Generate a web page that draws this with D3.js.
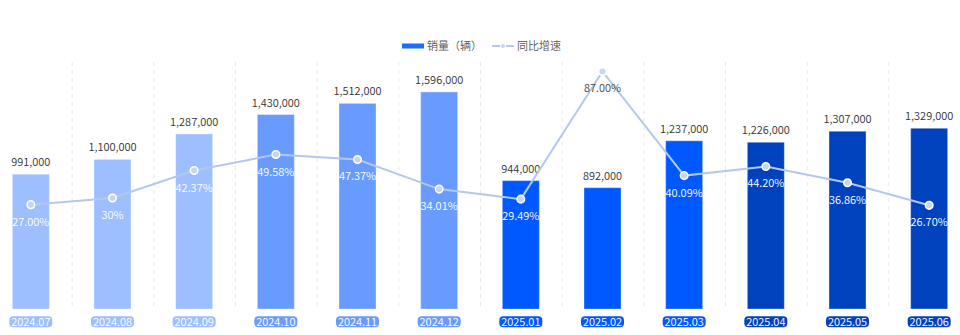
<!DOCTYPE html>
<html><head><meta charset="utf-8">
<script src="https://cdn.jsdelivr.net/npm/d3@7"></script>
<style>
html,body{margin:0;padding:0;background:#fff;}
svg{display:block;font-family:"Microsoft YaHei","Noto Sans CJK SC","Noto Sans",sans-serif;}
</style></head>
<body><svg id="c" width="960" height="335"></svg>
<script>
const categories = ["2024.07","2024.08","2024.09","2024.10","2024.11","2024.12","2025.01","2025.02","2025.03","2025.04","2025.05","2025.06"];
const sales = [991000,1100000,1287000,1430000,1512000,1596000,944000,892000,1237000,1226000,1307000,1329000];
const growth = [27.00,30,42.37,49.58,47.37,34.01,29.49,87.00,40.09,44.20,36.86,26.70];
const growthLabels = ["27.00%","30%","42.37%","49.58%","47.37%","34.01%","29.49%","87.00%","40.09%","44.20%","36.86%","26.70%"];
const legendNames = ["销量（辆）","同比增速"];
const palette = ["#9dbeff","#9dbeff","#9dbeff","#699bff","#699bff","#699bff","#0058ff","#0058ff","#0058ff","#0042bd","#0042bd","#0042bd"];

const svg = d3.select("#c");
const baseY = 309;
const x = d3.scaleBand().domain(categories).range([-10, 970]);
const y = d3.scaleLinear().domain([0, 2000000]).range([baseY, 37]);
const y2 = d3.scaleLinear().domain([-20, 100]).range([baseY, 42.6]);
const barW = 37;
const cx = d => x(d) + x.bandwidth() / 2;
const FW = 350;

svg.append("g").selectAll("line").data(categories.slice(1)).join("line")
  .attr("x1", d => x(d) + 0.5).attr("x2", d => x(d) + 0.5)
  .attr("y1", 62).attr("y2", baseY)
  .attr("stroke", "#e8e8e8").attr("stroke-dasharray", "4,4").attr("stroke-width", 1);

svg.append("g").selectAll("rect").data(sales).join("rect")
  .attr("x", (d, i) => cx(categories[i]) - barW / 2)
  .attr("y", d => y(d))
  .attr("width", barW)
  .attr("height", d => baseY - y(d))
  .attr("fill", (d, i) => palette[i])
  .attr("stroke", "rgba(255,255,255,0.35)").attr("stroke-width", 1);

svg.append("g").selectAll("text").data(sales).join("text")
  .attr("x", (d, i) => cx(categories[i]))
  .attr("y", d => y(d) - 8)
  .attr("text-anchor", "middle")
  .attr("font-size", 11).attr("font-weight", FW).attr("fill", "#333")
  .text(d => d3.format(",")(d));

const line = d3.line().x((d, i) => cx(categories[i])).y(d => y2(d));
svg.append("path").datum(growth)
  .attr("d", line).attr("fill", "none")
  .attr("stroke", "#b4c8ec").attr("stroke-width", 2);

svg.append("g").selectAll("circle").data(growth).join("circle")
  .attr("cx", (d, i) => cx(categories[i]))
  .attr("cy", d => y2(d))
  .attr("r", 3.8)
  .attr("fill", "#c6d5f0").attr("stroke", "#fff").attr("stroke-width", 1.5);

svg.append("g").selectAll("text").data(growth).join("text")
  .attr("x", (d, i) => cx(categories[i]))
  .attr("y", d => y2(d) + 21)
  .attr("text-anchor", "middle")
  .attr("font-size", 11).attr("font-weight", FW)
  .attr("fill", (d, i) => (y2(d) + 16 < y(sales[i]) ? "#444" : "#fff"))
  .text((d, i) => growthLabels[i]);

const pills = svg.append("g").selectAll("g").data(categories).join("g")
  .attr("transform", d => `translate(${cx(d)},${321.7})`);
pills.append("rect")
  .attr("x", -21.5).attr("y", -5.5).attr("width", 43).attr("height", 11)
  .attr("rx", 4).attr("fill", (d, i) => palette[i]);
pills.append("text")
  .attr("text-anchor", "middle").attr("dy", "0.36em")
  .attr("font-size", 11).attr("font-weight", FW).attr("fill", "#fff")
  .text(d => d);

const lg = svg.append("g");
lg.append("rect").attr("x", 402).attr("y", 43.5).attr("width", 22).attr("height", 5).attr("fill", "#1a6dff");
lg.append("text").attr("x", 427).attr("y", 46).attr("dy", "0.36em").attr("font-size", 11).attr("font-weight", FW).attr("fill", "#555").text(legendNames[0]);
lg.append("line").attr("x1", 492).attr("x2", 514).attr("y1", 46).attr("y2", 46).attr("stroke", "#b4c8ec").attr("stroke-width", 2);
lg.append("circle").attr("cx", 503).attr("cy", 46).attr("r", 2.5).attr("fill", "#c6d5f0").attr("stroke", "#fff").attr("stroke-width", 1);
lg.append("text").attr("x", 517).attr("y", 46).attr("dy", "0.36em").attr("font-size", 11).attr("font-weight", FW).attr("fill", "#555").text(legendNames[1]);
</script></body></html>
